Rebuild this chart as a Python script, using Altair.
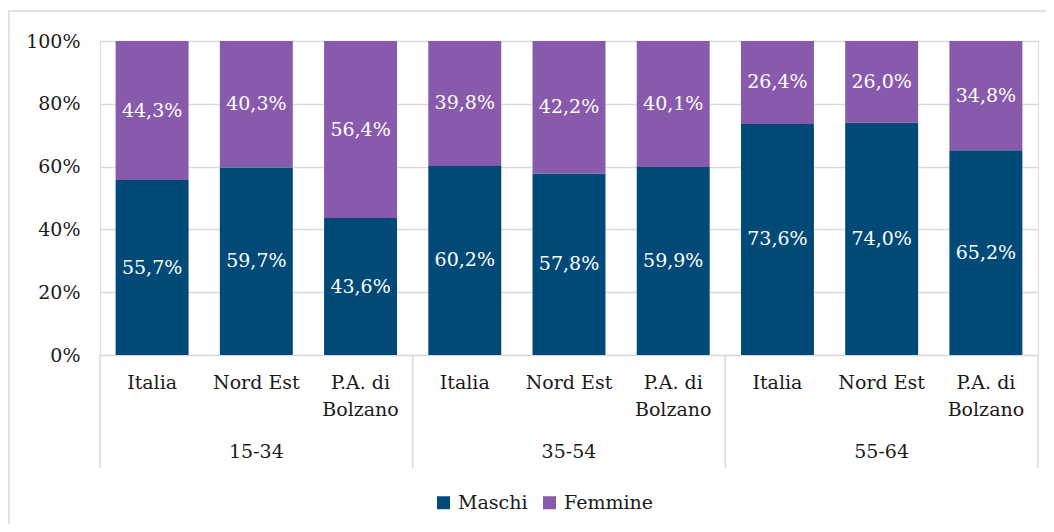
import altair as alt
import pandas as pd

groups = ["15-34", "35-54", "55-64"]
areas = ["Italia", "Nord Est", "P.A. di\nBolzano"]
maschi = [55.7, 59.7, 43.6, 60.2, 57.8, 59.9, 73.6, 74.0, 65.2]
femmine = [44.3, 40.3, 56.4, 39.8, 42.2, 40.1, 26.4, 26.0, 34.8]
series = ["Maschi", "Femmine"]
colors = ["#014a78", "#885aab"]

FONT = "DejaVu Serif"
FS = 19
TXT = "#1a1a1a"

rows = []
cats = []
k = 0
for g in groups:
    for a in areas:
        m = maschi[k] / 100
        f = femmine[k] / 100
        rows.append(dict(slot=k, x0=k + 0.15, x1=k + 0.85, serie="Maschi", y0=0, y1=m,
                         mid=m / 2, lab=f"{maschi[k]:.1f}%".replace(".", ",")))
        rows.append(dict(slot=k, x0=k + 0.15, x1=k + 0.85, serie="Femmine", y0=m, y1=m + f,
                         mid=m + f / 2, lab=f"{femmine[k]:.1f}%".replace(".", ",")))
        cats.append(dict(xc=k + 0.5, name=a))
        k += 1
df = pd.DataFrame(rows)
dcat = pd.DataFrame(cats)
dgrp = pd.DataFrame(dict(xc=[1.5, 4.5, 7.5], name=groups))
dsep = pd.DataFrame(dict(xs=[0, 3, 6, 9]))

xs = alt.Scale(domain=[0, 9], nice=False, zero=False)
ys = alt.Scale(domain=[0, 1], nice=False)

frame = alt.Chart(pd.DataFrame({"a": [0]})).mark_rect(
    fill="transparent", stroke="#d9d9d9", strokeWidth=1.5
).encode(x=alt.value(-91), x2=alt.value(980), y=alt.value(-30), y2=alt.value(520))

bars = alt.Chart(df).mark_bar().encode(
    x=alt.X("x0:Q", scale=xs, axis=None),
    x2="x1",
    y=alt.Y("y0:Q", scale=ys, axis=alt.Axis(
        values=[0, 0.2, 0.4, 0.6, 0.8, 1.0],
        labelExpr="round(datum.value*100) + '%'",
        grid=True, gridColor="#d9d9d9", gridWidth=1.5,
        domain=False, ticks=False, labelPadding=20,
        labelFont=FONT, labelFontSize=FS, labelColor=TXT, title=None)),
    y2="y1",
    color=alt.Color("serie:N", scale=alt.Scale(domain=series, range=colors),
                    sort=series,
                    legend=alt.Legend(title=None, orient="none", direction="horizontal",
                                      legendX=334, legendY=452,
                                      labelFont=FONT, labelFontSize=FS, labelColor=TXT,
                                      symbolType="square", symbolSize=169,
                                      symbolStrokeWidth=0, labelOffset=5,
                                      columnPadding=12, padding=0)),
)

labels = alt.Chart(df).transform_calculate(xc="datum.slot + 0.5").mark_text(
    font=FONT, fontSize=FS, color="white", baseline="middle", align="center"
).encode(
    x=alt.X("xc:Q", scale=xs),
    y=alt.Y("mid:Q", scale=ys),
    text="lab:N",
)

sep = alt.Chart(dsep).mark_rule(color="#d9d9d9", strokeWidth=1.5).encode(
    x=alt.X("xs:Q", scale=xs), y=alt.value(314), y2=alt.value(427)
)

catText = alt.Chart(dcat).mark_text(
    font=FONT, fontSize=FS, color=TXT, baseline="top", align="center",
    lineBreak="\n", lineHeight=27
).encode(x=alt.X("xc:Q", scale=xs), y=alt.value(333), text="name:N")

grpText = alt.Chart(dgrp).mark_text(
    font=FONT, fontSize=FS, color=TXT, baseline="middle", align="center"
).encode(x=alt.X("xc:Q", scale=xs), y=alt.value(411), text="name:N")

chart = alt.layer(frame, bars, labels, sep, catText, grpText).properties(
    width=938, height=314,
    autosize=alt.AutoSizeParams(type="none"),
    padding={"left": 92, "top": 33, "right": 8, "bottom": 169},
).configure_view(stroke=None).configure(background="white")

chart.save("out.html", embed_options={"renderer": "svg", "actions": False})
